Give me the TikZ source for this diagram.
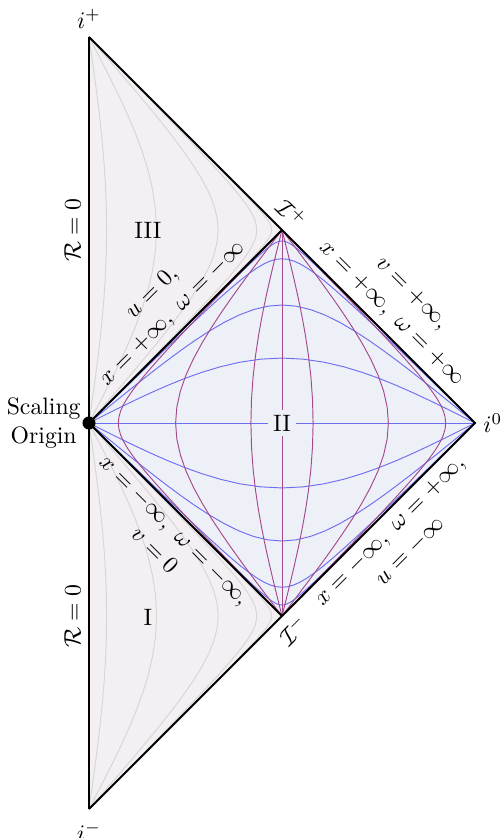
\documentclass[tikz,border=0pt]{standalone}
\usepackage{amsmath,amssymb}
\definecolor{cside}{HTML}{F3EFF2}
\definecolor{cwedge}{HTML}{EEF0F7}
\definecolor{cxline}{HTML}{6E6EF0}
\definecolor{cwline}{HTML}{A54A8C}
\definecolor{cgrey}{HTML}{D6D6D6}
\tikzset{
  edge/.style={thick, line join=miter},
  xcurve/.style={draw=cxline, line width=0.4pt},
  wcurve/.style={draw=cwline, line width=0.4pt},
  gcurve/.style={draw=cgrey, line width=0.4pt},
  elbl/.style={align=center, sloped, midway},
  dot/.style={circle, fill=black, inner sep=0pt, minimum size=5.5pt},
  declare function={ae(\t)=45+sign(\t)*(45-atan(exp(-abs(\t))));},
}
\begin{document}
\begin{tikzpicture}[x=1.43cm,y=1.43cm]
\useasboundingbox (-0.922,-4.300) rectangle (4.249,4.383);
\coordinate (O) at (0,0);
\coordinate (ip) at (0,4);
\coordinate (im) at (0,-4);
\coordinate (io) at (4,0);
\coordinate (Ip) at (2,2);
\coordinate (Im) at (2,-2);
% ---------------- regions
\fill[cside] (O) -- (ip) -- (Ip) -- cycle;
\fill[cside] (O) -- (im) -- (Im) -- cycle;
\fill[cwedge] (O) -- (Ip) -- (io) -- (Im) -- cycle;
% ---------------- regions I and III
\foreach \eo in {0.144,0.58,1.325,2.27,3.17} {
  \draw[gcurve] plot[domain=-12:12, samples=121, variable=\s]
    ({(ae(\s+\eo)-ae(\s-\eo))/45}, {(ae(\s+\eo)+ae(\s-\eo))/45});
  \draw[gcurve] plot[domain=-12:12, samples=121, variable=\s]
    ({(ae(\s+\eo)-ae(\s-\eo))/45}, {-(ae(\s+\eo)+ae(\s-\eo))/45});
}
% ---------------- region II
\foreach \xo in {0.555,1.155,2.14,3.1} {
  \draw[xcurve] plot[domain=-12:12, samples=121, variable=\w]
    ({(ae(\w+\xo)+ae(\w-\xo))/45}, {(ae(\w+\xo)-ae(\w-\xo))/45});
  \draw[xcurve] plot[domain=-12:12, samples=121, variable=\w]
    ({(ae(\w+\xo)+ae(\w-\xo))/45}, {-(ae(\w+\xo)-ae(\w-\xo))/45});
}
\draw[xcurve] (O) -- (io);
\foreach \wo in {0.256,1.0,2.12} {
  \draw[wcurve] plot[domain=-12:12, samples=121, variable=\x]
    ({(ae(\wo+\x)+ae(\wo-\x))/45}, {(ae(\wo+\x)-ae(\wo-\x))/45});
  \draw[wcurve] plot[domain=-12:12, samples=121, variable=\x]
    ({4-(ae(\wo+\x)+ae(\wo-\x))/45}, {(ae(\wo+\x)-ae(\wo-\x))/45});
}
\draw[wcurve] (Ip) -- (Im);
% ---------------- boundary
\draw[edge] (ip) -- (im);
\draw[edge] (ip) -- (io) -- (im);
\draw[edge] (Ip) -- (O) -- (Im);
% ---------------- labels
\node[fill=cwedge, inner sep=2pt] (rII) at (2,0) {II};
\node (rIII) at (0.61,2.0) {III};
\node (rI) at (0.61,-2.01) {I};
\node[above] (ipl) at (ip) {$i^+$};
\node[below=2pt] (iml) at (im) {$i^-$};
\node[right] (iol) at (io) {$i^0$};
\node[rotate=-45] (scrp) at (2.10,2.17) {$\mathcal{I}^+$};
\node[rotate=45] (scrm) at (2.117,-2.145) {$\mathcal{I}^-$};
\node[dot] (orig) at (O) {};
\node[left, align=center] (origl) at (O) {Scaling\\Origin};
\path (O) -- (ip) node[midway, above, sloped] (rtop) {$\mathcal{R}=0$};
\path (im) -- (O) node[midway, above, sloped] (rbot) {$\mathcal{R}=0$};
\path (O) -- (Ip) node[elbl, above] (ltl) {$u=0,$\\$x=+\infty,\ \omega=-\infty$};
\path (Ip) -- (io) node[elbl, above] (ltr) {$v=+\infty,$\\$x=+\infty,\ \omega=+\infty$};
\path (O) -- (Im) node[elbl, below] (lbl) {$x=-\infty,\ \omega=-\infty,$\\$v=0$};
\path (Im) -- (io) node[elbl, below] (lbr) {$x=-\infty,\ \omega=+\infty,$\\$u=-\infty$};
\end{tikzpicture}
\end{document}
